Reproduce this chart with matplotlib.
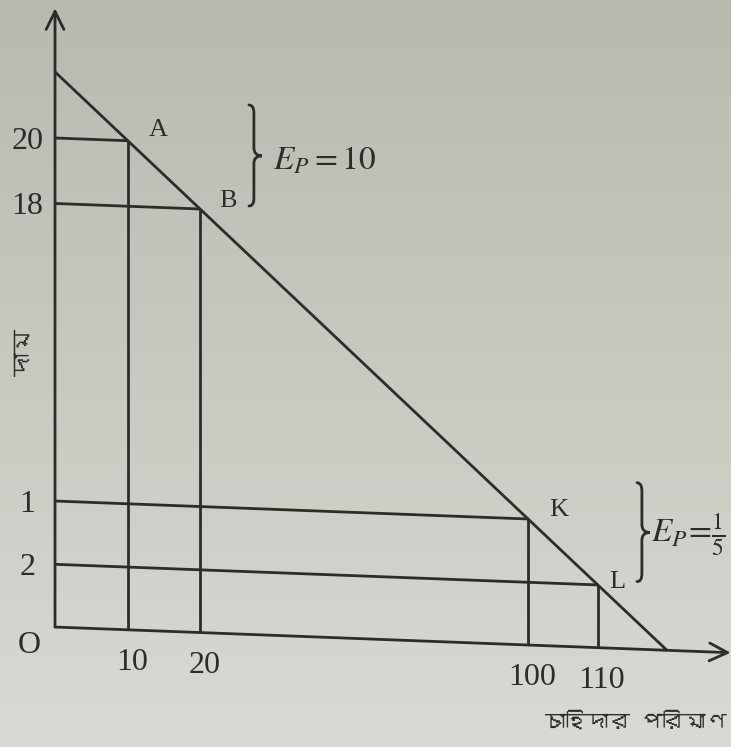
"""Schematic demand line with arc elasticity at two price ranges."""

import numpy as np
import matplotlib.pyplot as plt
import matplotlib.transforms as mtransforms
from matplotlib import font_manager
from matplotlib.ft2font import FT2Font
from matplotlib.path import Path
from matplotlib.patches import PathPatch

# Points marked on the demand line and their axis labels
POINT_NAMES = ["A", "B", "K", "L"]
QUANTITY_LABELS = ["10", "20", "100", "110"]
PRICE_LABELS = ["20", "18", "1", "2"]
ELASTICITY_LABELS = [r"$E_P = 10$", r"$E_P\!=\!\frac{1}{5}$"]
ORIGIN_LABEL = "O"
Y_LABEL = "দাম"
X_LABEL = "চাহিদার পরিমাণ"

# Drawing layout (the diagram is not to scale)
QUANTITY_POSITIONS = [11.9, 23.7, 77.3, 88.7]
CURVE_INTERCEPT = 90.7
CURVE_END = 100.0
Y_AXIS_TOP = 101.1
X_AXIS_END = 110.4
BRACE_X = [32.5, 95.9]
POINT_LABEL_OFFSETS = [(22, 8), (20, 6), (22, 6.5), (14, 2)]
ELASTICITY_TEXT_OFFSETS = [(8, -9.5), (1, -6.5)]
PAGE_SKEW = 0.038

INK = "#2c2c2a"
PAPER_TOP = "#b7bab0"
PAPER_BOTTOM = "#d8dad3"


def find_font_for(char):
    """Return the name of an installed font that has a glyph for char."""
    for entry in font_manager.fontManager.ttflist:
        try:
            if ord(char) in FT2Font(entry.fname).get_charmap():
                return entry.name
        except Exception:
            continue
    return None


def draw_brace(ax, x, y_top, y_bottom, transform, hook=0.8, tip=1.3, curl=1.3):
    """Draw a tall right-pointing curly brace."""
    y_mid = (y_top + y_bottom) / 2
    verts = [
        (x - hook, y_top), (x, y_top), (x, y_top - curl),
        (x, y_mid + curl),
        (x, y_mid), (x + tip, y_mid),
        (x, y_mid), (x, y_mid - curl),
        (x, y_bottom + curl),
        (x, y_bottom), (x - hook, y_bottom),
    ]
    codes = [
        Path.MOVETO, Path.CURVE3, Path.CURVE3,
        Path.LINETO,
        Path.CURVE3, Path.CURVE3,
        Path.CURVE3, Path.CURVE3,
        Path.LINETO,
        Path.CURVE3, Path.CURVE3,
    ]
    ax.add_patch(PathPatch(Path(verts, codes), fill=False, edgecolor=INK,
                           linewidth=2.0, transform=transform, capstyle="round"))
    return x + tip, y_mid


def main():
    plt.rcParams["font.family"] = ["Liberation Serif", "DejaVu Serif"]
    plt.rcParams["mathtext.fontset"] = "stix"

    bengali = find_font_for(Y_LABEL[0])
    label_family = [bengali, "DejaVu Sans"] if bengali else ["DejaVu Sans"]

    fig = plt.figure(figsize=(7.31, 7.47), dpi=100)

    # paper background, slightly darker towards the top
    bg = fig.add_axes([0, 0, 1, 1])
    shade = np.linspace(0, 1, 256)[:, None]
    top = np.array(plt.matplotlib.colors.to_rgb(PAPER_TOP))
    bottom = np.array(plt.matplotlib.colors.to_rgb(PAPER_BOTTOM))
    gradient = top + (bottom - top) * shade[..., None]
    bg.imshow(gradient, aspect="auto", extent=[0, 1, 0, 1])
    bg.set_axis_off()

    ax = fig.add_axes([0, 0, 1, 1])
    ax.patch.set_alpha(0)
    ax.set_xlim(-8.99, 110.46)
    ax.set_ylim(-19.6, 102.45)
    ax.set_axis_off()

    # the printed page is photographed at a slight tilt
    skew = mtransforms.Affine2D(
        np.array([[1, 0, 0], [-PAGE_SKEW, 1, 0], [0, 0, 1]])
    ) + ax.transData

    line_kw = dict(color=INK, linewidth=2.0, transform=skew,
                   solid_capstyle="butt")
    arrow_kw = dict(arrowstyle="->,head_length=0.65,head_width=0.32",
                    mutation_scale=20, color=INK, linewidth=2.0,
                    shrinkA=0, shrinkB=0)

    # axes with arrow heads
    ax.annotate("", xy=(0, Y_AXIS_TOP), xytext=(0, 0), xycoords=skew,
                textcoords=skew, arrowprops=arrow_kw)
    ax.annotate("", xy=(X_AXIS_END, 0), xytext=(0, 0), xycoords=skew,
                textcoords=skew, arrowprops=arrow_kw)

    # demand line
    ax.plot([0, CURVE_END], [CURVE_INTERCEPT, 0], **line_kw)

    q = np.array(QUANTITY_POSITIONS)
    p = CURVE_INTERCEPT * (1 - q / CURVE_END)

    for qi, pi in zip(q, p):
        ax.plot([0, qi], [pi, pi], **line_kw)
        ax.plot([qi, qi], [pi, 0], **line_kw)

    text_kw = dict(color=INK, textcoords="offset points", xycoords=skew)

    for name, qi, pi, offset in zip(POINT_NAMES, q, p, POINT_LABEL_OFFSETS):
        ax.annotate(name, xy=(qi, pi), xytext=offset, fontsize=19,
                    ha="center", va="center", **text_kw)

    for label, pi in zip(PRICE_LABELS, p):
        ax.annotate(label, xy=(0, pi), xytext=(-20, -2.5), fontsize=23,
                    ha="center", va="center", **text_kw)

    for label, qi in zip(QUANTITY_LABELS, q):
        ax.annotate(label, xy=(qi, 0), xytext=(3, -23.5), fontsize=23,
                    ha="center", va="center", **text_kw)

    ax.annotate(ORIGIN_LABEL, xy=(0, 0), xytext=(-18.4, -13), fontsize=23,
                ha="center", va="center", **text_kw)

    # elasticity braces between A-B and K-L
    for i, (label, bx, offset) in enumerate(
        zip(ELASTICITY_LABELS, BRACE_X, ELASTICITY_TEXT_OFFSETS)
    ):
        upper, lower = p[2 * i], p[2 * i + 1]
        tip_x, mid_y = draw_brace(ax, bx, upper + 6.6, lower + 0.8, skew)
        ax.annotate(label, xy=(tip_x, mid_y), xytext=offset, fontsize=24,
                    ha="left", va="baseline", **text_kw)

    fig.text(24 / 731, 1 - 352 / 747, Y_LABEL, rotation=90, fontsize=17,
             color=INK, ha="center", va="center", family=label_family)
    fig.text(727 / 731, 1 - 722 / 747, X_LABEL, fontsize=15.5,
             color=INK, ha="right", va="center", family=label_family)

    fig.savefig("out.png", dpi=100)
    plt.close(fig)


if __name__ == "__main__":
    main()
